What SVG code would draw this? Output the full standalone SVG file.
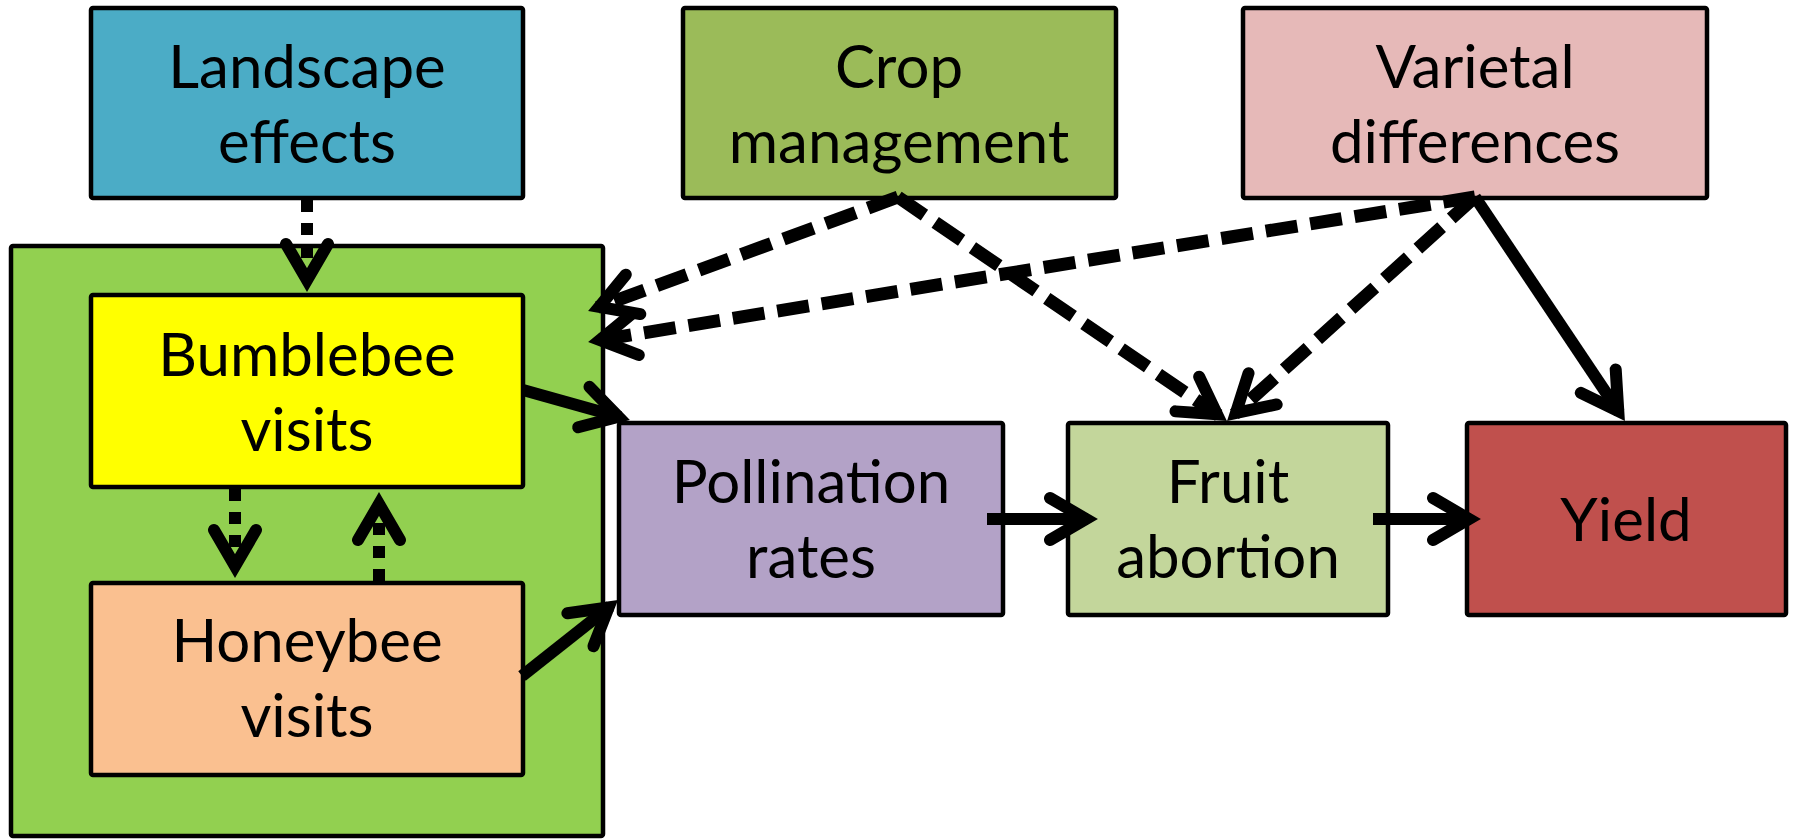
<svg xmlns="http://www.w3.org/2000/svg" width="1793" height="840" viewBox="0 0 1793 840">
<defs>
<style>
.box{stroke:#000;stroke-width:4.5}
.t{font-family:Lato,"Liberation Sans",sans-serif;font-size:60px;fill:#000;text-anchor:middle}
.c{fill:none;stroke:#000;stroke-width:12;marker-end:url(#ah)}
.dash{stroke-dasharray:32 13;stroke-width:13}
.dot{stroke-dasharray:12 11}
</style>
<marker id="ah" markerUnits="userSpaceOnUse" orient="auto" refX="-10" refY="0" markerWidth="100" markerHeight="100" overflow="visible">
<path d="M-48,-21 L-12,0 L-48,21" fill="none" stroke="#000" stroke-width="12" stroke-linecap="round" stroke-linejoin="miter" stroke-dasharray="none"/>
</marker>
</defs>
<rect width="1793" height="840" fill="#fff"/>
<g id="container"><rect class="box" x="11" y="246" width="592" height="590" rx="2" fill="#92D050"/></g>
<g id="landscape"><rect class="box" x="91" y="8" width="432" height="190" rx="2" fill="#4BACC6"/><text class="t" x="307" y="88">Landscape</text><text class="t" x="307" y="163">effects</text></g>
<g id="crop"><rect class="box" x="683" y="8" width="433" height="190" rx="2" fill="#9BBB59"/><text class="t" x="899" y="88">Crop</text><text class="t" x="899" y="163">management</text></g>
<g id="varietal"><rect class="box" x="1243" y="8" width="464" height="190" rx="2" fill="#E6B9B8"/><text class="t" x="1475" y="88">Varietal</text><text class="t" x="1475" y="163">differences</text></g>
<g id="bumblebee"><rect class="box" x="91" y="295" width="432" height="192" rx="2" fill="#FFFF00"/><text class="t" x="307" y="376">Bumblebee</text><text class="t" x="307" y="451">visits</text></g>
<g id="honeybee"><rect class="box" x="91" y="583" width="432" height="192" rx="2" fill="#FAC090"/><text class="t" x="307" y="662">Honeybee</text><text class="t" x="307" y="737">visits</text></g>
<g id="pollination"><rect class="box" x="619" y="423" width="384" height="192" rx="2" fill="#B3A2C7"/><text class="t" x="811" y="503">Pollination</text><text class="t" x="811" y="578">rates</text></g>
<g id="fruit"><rect class="box" x="1068" y="423" width="320" height="192" rx="2" fill="#C3D69B"/><text class="t" x="1228" y="503">Fruit</text><text class="t" x="1228" y="578">abortion</text></g>
<g id="yield"><rect class="box" x="1467" y="423" width="319" height="192" rx="2" fill="#C0504D"/><text class="t" x="1626" y="541">Yield</text></g>
<g id="connectors">
<path class="c dot" d="M307,200 L307,282"/>
<path class="c dot" d="M235,489 L235,568"/>
<path class="c dot" d="M379,581 L379,502"/>
<path class="c" d="M523,390 L620.4,417.3"/>
<path class="c" d="M522,676 L610.2,606.2"/>
<path class="c" d="M987,519 L1088,519"/>
<path class="c" d="M1373,519 L1471,519"/>
<path class="c dash" d="M898,197 L597.4,307.5"/>
<path class="c dash" d="M1475,197 L597.9,340.4"/>
<path class="c dash" d="M898,197 L1218.7,415.4"/>
<path class="c dash" d="M1475,197 L1234.4,414.3"/>
<path class="c" d="M1475,197 L1619.4,412.7"/>
</g>
</svg>
